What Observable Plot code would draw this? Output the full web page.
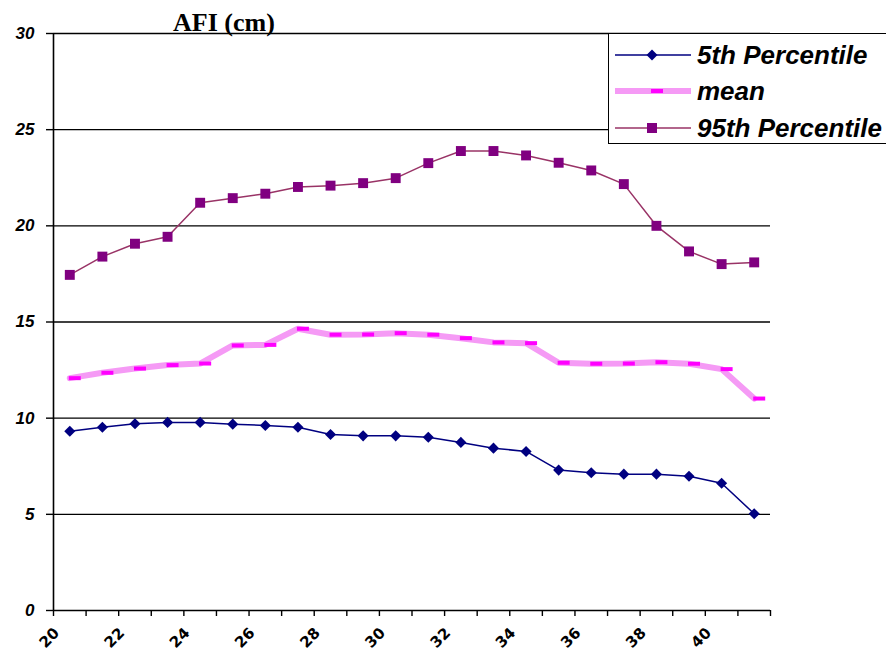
<!DOCTYPE html>
<html><head><meta charset="utf-8">
<script src="https://cdn.jsdelivr.net/npm/d3@7"></script>
<script src="https://cdn.jsdelivr.net/npm/@observablehq/plot@0.6"></script>
<style>
body{margin:0;background:#fff;}
#wrap{position:relative;width:886px;height:655px;overflow:hidden;}
#title{position:absolute;left:173px;top:8px;font:bold 26px "Liberation Serif";color:#000;white-space:nowrap;}
#legend{position:absolute;left:608px;top:33px;width:280px;height:111px;border:1.5px solid #000;background:#fff;box-sizing:border-box;}
.row{position:absolute;left:0;height:30px;display:flex;align-items:center;}
.row svg{margin-left:6px;}
.row span{margin-left:6px;font:bold italic 26px "Liberation Sans";color:#000;white-space:nowrap;}
</style></head><body>
<div id="wrap"><div id="chart"></div><div id="title">AFI (cm)</div><div id="legend"></div></div>
<script>
const weeks = [20,21,22,23,24,25,26,27,28,29,30,31,32,33,34,35,36,37,38,39,40,41];
const p5   = [9.32,9.53,9.71,9.78,9.78,9.69,9.62,9.53,9.15,9.08,9.08,9.01,8.74,8.44,8.27,7.30,7.16,7.09,7.09,6.98,6.62,5.03];
const mean = [12.08,12.36,12.58,12.76,12.84,13.78,13.81,14.65,14.34,14.35,14.42,14.34,14.16,13.94,13.90,12.88,12.83,12.84,12.91,12.83,12.55,11.02];
const p95  = [17.45,18.40,19.07,19.43,21.20,21.44,21.67,22.02,22.09,22.22,22.48,23.26,23.89,23.89,23.66,23.28,22.88,22.17,20.00,18.67,18.01,18.10];
const yTicks = [0,5,10,15,20,25,30];
const xLabels = [20,22,24,26,28,30,32,34,36,38,40];
const seriesNames = ["5th Percentile","mean","95th Percentile"];

const rows = weeks.map((w,i)=>({week:w, p5:p5[i], mean:mean[i], p95:p95[i]}));
const catEdges = [19.5].concat(weeks.map(w=>w+0.5));
const dash = {draw(ctx){ ctx.rect(-1,-2,12,4); }};

const chart = Plot.plot({
  width: 886, height: 655,
  marginLeft: 53, marginRight: 116, marginTop: 33, marginBottom: 45,
  x: {domain: [19.5, 41.5]},
  y: {domain: [0, 30]},
  marks: [
    Plot.ruleY(yTicks.filter(d=>d>0), {x1: 19.5, x2: 41.5, stroke: "#000", strokeWidth: 1.4}),
    Plot.ruleY([0], {x1: 19.5, x2: 41.5, stroke: "#000", strokeWidth: 1.6}),
    Plot.ruleX([19.5], {y1: 0, y2: 30, stroke: "#000", strokeWidth: 1.6}),
    Plot.axisY({ticks: yTicks, tickSize: 7, tickFormat: () => "", label: null, strokeWidth: 1.4}),
    Plot.text(yTicks, {x: 19.5, y: d => d, dx: -19, textAnchor: "end", text: d => String(d), fontSize: 17, fontWeight: "bold", fontStyle: "italic", fontFamily: "Liberation Sans", fill: "#000"}),
    Plot.axisX({ticks: catEdges, tickSize: 6, tickFormat: () => "", label: null, strokeWidth: 1.4}),
    Plot.text(xLabels, {x: d => d, y: 0, dx: -13, dy: 20, rotate: -45, textAnchor: "end", text: d => String(d), fontSize: 15, fontWeight: "bold", fontFamily: "DejaVu Sans", fill: "#000"}),
    Plot.line(rows, {x: "week", y: "p95", stroke: "#993366", strokeWidth: 1.5}),
    Plot.dot(rows, {x: "week", y: "p95", symbol: "square", r: 5.6, fill: "#800080", stroke: "none"}),
    Plot.line(rows, {x: "week", y: "mean", stroke: "#f59af5", strokeWidth: 6}),
    Plot.dot(rows, {x: "week", y: "mean", symbol: dash, r: 5, fill: "#ff00ff", stroke: "none"}),
    Plot.line(rows, {x: "week", y: "p5", stroke: "#000080", strokeWidth: 1.5}),
    Plot.dot(rows, {x: "week", y: "p5", symbol: "diamond2", r: 5, fill: "#000080", stroke: "none"})
  ]
});
document.getElementById("chart").appendChild(chart);

// legend
const lg = document.getElementById("legend");
const samples = [
  `<svg width="76" height="14"><line x1="0" y1="7" x2="76" y2="7" stroke="#000080" stroke-width="1.5"/><path d="M37,1.5 L42.5,7 L37,12.5 L31.5,7Z" fill="#000080"/></svg>`,
  `<svg width="76" height="14"><line x1="0" y1="7" x2="76" y2="7" stroke="#f59af5" stroke-width="6"/><rect x="36" y="5" width="12" height="4" fill="#ff00ff"/></svg>`,
  `<svg width="76" height="14"><line x1="0" y1="7" x2="76" y2="7" stroke="#993366" stroke-width="1.5"/><rect x="32" y="2" width="10" height="10" fill="#800080"/></svg>`
];
const tops = [6, 42, 79];
seriesNames.forEach((n,i)=>{
  const d = document.createElement("div");
  d.className = "row"; d.style.top = tops[i] + "px";
  d.innerHTML = samples[i] + `<span>${n}</span>`;
  lg.appendChild(d);
});
</script>
</body></html>
